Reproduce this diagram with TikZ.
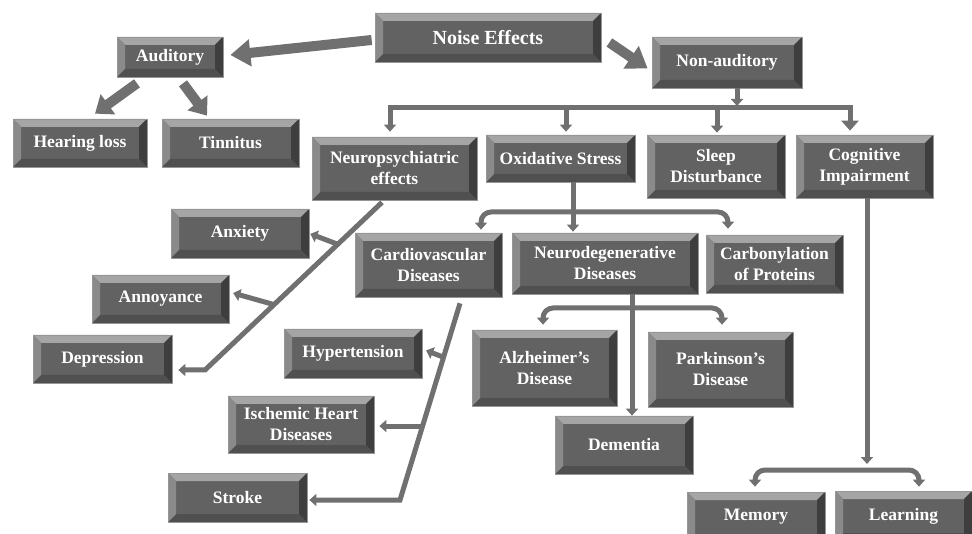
\documentclass[tikz,border=0pt]{standalone}
\usepackage{fontspec}
\setmainfont{Liberation Serif}
\usetikzlibrary{arrows.meta,calc}
\definecolor{faceC}{RGB}{98,98,98}
\definecolor{topC}{RGB}{165,165,165}
\definecolor{leftC}{RGB}{138,138,138}
\definecolor{rightC}{RGB}{62,62,62}
\definecolor{botC}{RGB}{80,80,80}
\definecolor{rimC}{RGB}{150,150,150}
\definecolor{connC}{RGB}{112,112,112}
\newcommand\bxfont{\bfseries\fontsize{17.5}{21}\selectfont}
\tikzset{
 bevbox/.style={rectangle, fill=faceC, draw=rimC, line width=0.7pt, text=white,
  font=\bxfont, align=center, inner sep=0pt,
  path picture={
   \path (path picture bounding box.south west) coordinate (pSW)
         (path picture bounding box.north east) coordinate (pNE)
         (path picture bounding box.north west) coordinate (pNW)
         (path picture bounding box.south east) coordinate (pSE);
   \fill[topC] (pNW) -- (pNE) -- ([shift={(-8pt,-8pt)}]pNE) -- ([shift={(8pt,-8pt)}]pNW) -- cycle;
   \fill[botC] (pSW) -- (pSE) -- ([shift={(-8pt,8pt)}]pSE) -- ([shift={(8pt,8pt)}]pSW) -- cycle;
   \fill[leftC] (pNW) -- (pSW) -- ([shift={(8pt,8pt)}]pSW) -- ([shift={(8pt,-8pt)}]pNW) -- cycle;
   \fill[rightC] (pNE) -- (pSE) -- ([shift={(-8pt,8pt)}]pSE) -- ([shift={(-8pt,-8pt)}]pNE) -- cycle;
  }},
 sz/.style 2 args={minimum width=#1pt, minimum height=#2pt},
 conn/.style={draw=connC, line width=5pt},
 arr/.style={-{Triangle[width=12pt,length=7pt]}},
 arrb/.style={{Triangle[width=12pt,length=7pt]}-{Triangle[width=12pt,length=7pt]}},
 block/.style={draw=connC, line width=10pt, -{Triangle[width=26pt,length=20pt]}},
 blocks/.style={draw=connC, line width=10pt, -{Triangle[width=24pt,length=16pt]}},
}
\begin{document}
\begin{tikzpicture}[x=1pt,y=-1pt]
\useasboundingbox (0,0) rectangle (972,534);
\clip (0,0) rectangle (972,534);
\fill[white] (0,0) rectangle (972,534);

% boxes
\node[bevbox, sz={226}{49}, font=\bfseries\fontsize{20}{24}\selectfont] (noise) at (488,37.5) {Noise Effects};
\node[bevbox, sz={106}{40}] (aud) at (170,57) {Auditory};
\node[bevbox, sz={134}{48}] (hear) at (80,143) {Hearing loss};
\node[bevbox, sz={137}{48}] (tinn) at (230.5,143) {Tinnitus};
\node[bevbox, sz={150}{51}] (nonaud) at (727,62.5) {Non-auditory};
\node[bevbox, sz={165}{63}] (neuro) at (394.5,168.5) {Neuropsychiatric\\effects};
\node[bevbox, sz={149}{47}] (oxid) at (560.5,158.5) {Oxidative Stress};
\node[bevbox, sz={138}{63}] (sleep) at (716,166.5) {Sleep\\Disturbance};
\node[bevbox, sz={137}{63}] (cogn) at (864.5,166.5) {Cognitive\\Impairment};
\node[bevbox, sz={138}{49}] (anx) at (240,233.5) {Anxiety};
\node[bevbox, sz={137}{48}] (annoy) at (160.5,299) {Annoyance};
\node[bevbox, sz={139}{48}] (depr) at (102.5,359) {Depression};
\node[bevbox, sz={147}{64}] (cardio) at (428.5,265) {Cardiovascular\\Diseases};
\node[bevbox, sz={186}{61}] (neurodeg) at (605,263.5) {Neurodegenerative\\Diseases};
\node[bevbox, sz={137}{58}] (carb) at (774.5,264) {Carbonylation\\of Proteins};
\node[bevbox, sz={138}{49}] (hyper) at (353,353.5) {Hypertension};
\node[bevbox, sz={146}{57}] (isch) at (301,424.5) {Ischemic Heart\\Diseases};
\node[bevbox, sz={139}{49}] (stroke) at (237.5,497.5) {Stroke};
\node[bevbox, sz={145}{76}] (alz) at (544.5,368) {Alzheimer’s\\Disease};
\node[bevbox, sz={145}{75}] (park) at (720.5,369.5) {Parkinson’s\\Disease};
\node[bevbox, sz={138}{58}] (dem) at (624,445) {Dementia};
\node[bevbox, sz={138}{50}] (mem) at (756,517) {Memory};
\node[bevbox, sz={137}{50}] (learn) at (903.5,516) {Learning};

% block arrows
\draw[block] ([xshift=-3pt,yshift=-2.5pt]noise.west) -- ([xshift=7pt,yshift=2pt]aud.east);
\draw[block] ([xshift=8pt,yshift=-5pt]noise.east) -- ([xshift=-4pt,yshift=-6pt]nonaud.west);
\draw[blocks] ([xshift=-33pt,yshift=-6pt]aud.south) -- ([xshift=15pt,yshift=5pt]hear.north);
\draw[blocks] ([xshift=13pt,yshift=-6pt]aud.south) -- ([xshift=-23.5pt,yshift=3pt]tinn.north);

% non-auditory tree
\coordinate (bL) at (390,108);
\coordinate (bR) at (850,108);
\coordinate (bNA) at (737,106);
\coordinate (bO) at (566,108);
\coordinate (bS) at (717,108);
\draw[conn,arr] (nonaud.south -| bNA) -- (bNA);
\draw[conn,{Triangle[width=12pt,length=7pt]}-{Triangle[width=17pt,length=10pt]}, shorten <=5pt, shorten >=4pt]
  (neuro.north -| bL) -- (bL) -- (bR) [rounded corners=12pt] -- (bR |- cogn.north);
\draw[conn,arr,shorten >=3pt] (bO) -- (bO |- oxid.north);
\draw[conn,arr,shorten >=2pt] (bS) -- (bS |- sleep.north);

% neuropsychiatric
\coordinate (nd0) at ([xshift=-12.5pt,yshift=-2pt]neuro.south);
\coordinate (nd1) at (205,370);
\draw[conn,arr,shorten >=6pt] (nd0) -- (nd1) -- (nd1 -| depr.east);
\draw[conn,arr,shorten >=1pt] ($(nd0)!0.25!(nd1)$) -- (anx.east);
\draw[conn,arr,shorten >=4pt] ($(nd0)!0.61!(nd1)$) -- ([yshift=7pt]annoy.east);

% oxidative stress
\coordinate (o1) at (481,212);
\coordinate (o2) at (728,212);
\coordinate (o3) at (573,212);
\draw[conn,arr,shorten >=1pt] (oxid.south -| o3) -- (neurodeg.north -| o3);
\draw[conn,arrb,rounded corners=10pt,shorten <=3pt,shorten >=6pt] (o1 |- cardio.north) -- (o1) -- (o2) -- (o2 |- carb.north);

% cardiovascular
\coordinate (cd0) at ([xshift=31.5pt,yshift=-6pt]cardio.south);
\coordinate (cd1) at (400,500);
\draw[conn,arr,shorten >=2pt] (cd0) -- (cd1) -- (cd1 -| stroke.east);
\draw[conn,arr,shorten >=4pt] ($(cd0)!0.274!(cd1)$) -- ([yshift=4.5pt]hyper.east);
\coordinate (cj) at ($(cd0)!0.624!(cd1)$);
\draw[conn,arr,shorten >=5pt] (cj) -- (cj -| isch.east);

% neurodegenerative
\coordinate (n1) at (543,308);
\coordinate (n2) at (722,308);
\coordinate (n3) at (632,308);
\draw[conn,arr] (neurodeg.south -| n3) -- (dem.north -| n3);
\draw[conn,arrb,rounded corners=10pt,shorten <=5pt,shorten >=7pt] (n1 |- alz.north) -- (n1) -- (n2) -- (n2 |- park.north);

% cognitive
\coordinate (c1) at (755,470);
\coordinate (c2) at (919,470);
\coordinate (c3) at (867,470);
\draw[conn,arr,shorten >=6pt] (cogn.south -| c3) -- (c3);
\draw[conn,arrb,rounded corners=10pt,shorten <=5pt,shorten >=4pt] (c1 |- mem.north) -- (c1) -- (c2) -- (c2 |- learn.north);
\end{tikzpicture}
\end{document}
